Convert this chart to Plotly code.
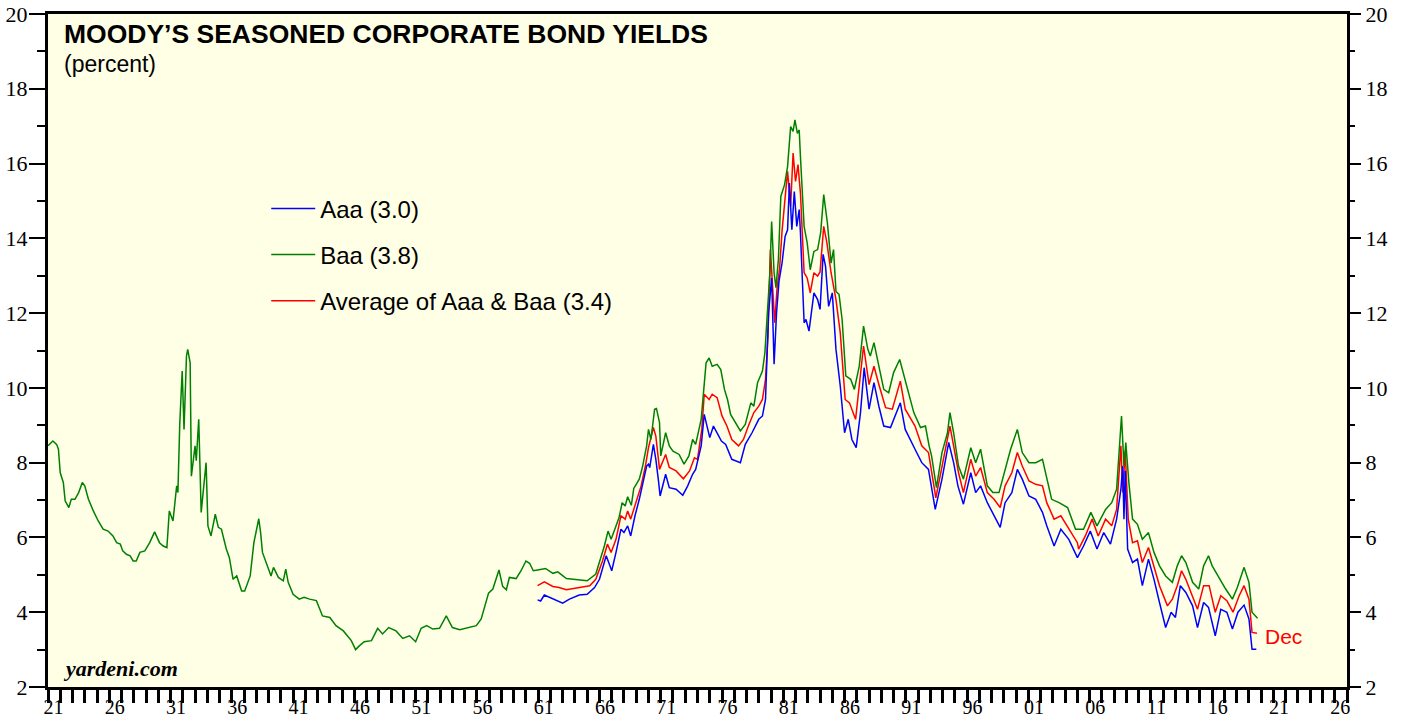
import plotly.graph_objects as go

# ---------------- data ----------------
baa_x = [1921.0, 1921.1, 1921.4, 1921.7, 1921.85, 1922.0, 1922.25, 1922.4, 1922.7, 1922.9,
         1923.2, 1923.5, 1923.8, 1924.0, 1924.3, 1924.7, 1925.1, 1925.5, 1925.9, 1926.3,
         1926.6, 1926.9, 1927.1, 1927.4, 1927.7, 1927.95, 1928.2, 1928.5, 1928.9, 1929.3,
         1929.7, 1930.1, 1930.4, 1930.7, 1930.9, 1931.2, 1931.5, 1931.6, 1931.75, 1931.95,
         1932.1, 1932.3, 1932.4, 1932.6, 1932.7, 1933.0, 1933.1, 1933.3, 1933.5, 1933.9,
         1934.05, 1934.3, 1934.65, 1934.9, 1935.15, 1935.55, 1935.8, 1936.1, 1936.4, 1936.8,
         1937.05, 1937.5, 1937.8, 1938.2, 1938.35, 1938.5, 1938.9, 1939.2, 1939.4, 1939.8,
         1940.2, 1940.4, 1940.6, 1941.0, 1941.5, 1941.9, 1942.35, 1942.9, 1943.4, 1944.0,
         1944.5, 1945.1, 1945.75, 1946.1, 1946.4, 1946.8, 1947.4, 1947.9, 1948.3, 1948.8,
         1949.4, 1949.95, 1950.5, 1951.0, 1951.45, 1951.9, 1952.4, 1952.95, 1953.5, 1954.0,
         1954.6, 1955.25, 1955.95, 1956.35, 1956.95, 1957.3, 1957.8, 1958.1, 1958.4, 1958.65,
         1959.2, 1959.6, 1960.0, 1960.3, 1960.6, 1960.95, 1961.6, 1962.2, 1962.6, 1963.3,
         1964.1, 1965.0, 1965.7, 1966.1, 1966.4, 1966.7, 1966.95, 1967.2, 1967.6, 1967.85,
         1968.1, 1968.3, 1968.6, 1968.8, 1969.25, 1969.5, 1969.85, 1970.0, 1970.2, 1970.5,
         1970.65, 1970.9, 1971.0, 1971.4, 1971.7, 1972.0, 1972.5, 1972.9, 1973.3, 1973.6,
         1973.85, 1974.3, 1974.55, 1974.7, 1974.95, 1975.2, 1975.6, 1975.9, 1976.2, 1976.45,
         1976.7, 1977.1, 1977.5, 1977.9, 1978.35, 1978.6, 1978.9, 1979.3, 1979.5, 1979.7,
         1979.9, 1980.05, 1980.25, 1980.4, 1980.6, 1980.8, 1981.1, 1981.35, 1981.6, 1981.8,
         1981.95, 1982.15, 1982.3, 1982.4, 1982.7, 1982.95, 1983.2, 1983.5, 1983.8, 1984.05,
         1984.3, 1984.6, 1984.9, 1985.1, 1985.3, 1985.55, 1985.8, 1986.1, 1986.5, 1986.8,
         1987.2, 1987.55, 1987.9, 1988.1, 1988.4, 1988.8, 1989.2, 1989.6, 1990.0, 1990.5,
         1990.85, 1991.25, 1991.65, 1992.2, 1992.6, 1992.9, 1993.1, 1993.5, 1993.95, 1994.4,
         1994.6, 1994.9, 1995.3, 1995.7, 1996.3, 1996.7, 1997.1, 1997.65, 1998.1, 1998.6,
         1999.1, 1999.55, 2000.1, 2000.5, 2001.05, 2001.6, 2002.15, 2002.5, 2002.9, 2003.5,
         2004.2, 2004.85, 2005.5, 2006.1, 2006.6, 2007.3, 2007.8, 2008.2, 2008.6, 2008.8,
         2008.95, 2009.2, 2009.5, 2009.9, 2010.3, 2010.8, 2011.25, 2011.7, 2012.2, 2012.75,
         2013.15, 2013.5, 2013.85, 2014.4, 2014.9, 2015.3, 2015.7, 2016.0, 2016.7, 2017.1,
         2017.65, 2018.05, 2018.6, 2019.0, 2019.25, 2019.7]
baa_y = [8.45, 8.49, 8.58, 8.49, 8.36, 7.73, 7.47, 6.98, 6.80, 7.02,
         7.02, 7.20, 7.47, 7.38, 7.02, 6.71, 6.44, 6.22, 6.17, 6.04,
         5.86, 5.82, 5.64, 5.55, 5.51, 5.37, 5.37, 5.60, 5.64, 5.86,
         6.15, 5.86, 5.77, 5.73, 6.71, 6.44, 7.38, 7.20, 9.02, 10.45,
         8.89, 10.85, 11.03, 10.67, 7.64, 8.45, 8.05, 9.16, 6.67, 8.00,
         6.31, 6.04, 6.62, 6.27, 6.22, 5.69, 5.46, 4.88, 4.97, 4.57,
         4.57, 4.97, 5.86, 6.50, 6.13, 5.60, 5.24, 4.97, 5.20, 4.93,
         4.84, 5.15, 4.80, 4.48, 4.35, 4.40, 4.35, 4.31, 3.90, 3.86,
         3.64, 3.50, 3.24, 3.00, 3.10, 3.21, 3.24, 3.57, 3.42, 3.59,
         3.50, 3.30, 3.37, 3.21, 3.57, 3.64, 3.55, 3.57, 3.90, 3.59,
         3.53, 3.59, 3.64, 3.82, 4.51, 4.62, 5.13, 4.69, 4.60, 4.93,
         4.90, 5.11, 5.37, 5.31, 5.11, 5.13, 5.17, 5.04, 5.08, 4.90,
         4.88, 4.84, 5.02, 5.42, 5.77, 6.17, 5.95, 6.17, 6.53, 6.93,
         6.84, 7.09, 6.86, 7.31, 7.56, 7.87, 8.45, 8.89, 8.62, 9.43,
         9.45, 9.07, 8.18, 8.80, 8.45, 8.31, 8.22, 7.96, 8.18, 8.62,
         8.49, 9.16, 10.23, 10.67, 10.80, 10.58, 10.63, 10.49, 9.96, 9.69,
         9.29, 9.07, 8.85, 9.02, 9.60, 9.51, 10.14, 10.45, 10.94, 12.01,
         13.03, 14.45, 13.08, 12.68, 13.43, 15.12, 15.43, 15.92, 16.99, 16.86,
         17.17, 16.81, 16.90, 16.19, 14.32, 13.88, 13.16, 13.65, 13.70, 14.15,
         15.17, 14.41, 13.34, 13.70, 12.58, 12.50, 11.83, 10.32, 10.23, 9.96,
         10.58, 11.65, 11.03, 10.85, 11.21, 10.58, 9.96, 9.87, 10.41, 10.76,
         10.32, 9.87, 9.34, 8.94, 8.98, 8.45, 8.18, 7.33, 8.27, 8.80,
         9.34, 8.80, 7.91, 7.56, 8.40, 8.00, 8.36, 7.38, 7.20, 7.20,
         7.82, 8.36, 8.89, 8.27, 8.00, 8.00, 8.09, 7.56, 7.02, 6.93,
         6.80, 6.22, 6.22, 6.67, 6.31, 6.75, 6.93, 7.29, 9.25, 7.91,
         8.54, 7.47, 6.49, 6.35, 5.95, 6.13, 5.60, 5.24, 4.97, 4.80,
         5.24, 5.51, 5.33, 4.80, 4.62, 5.24, 5.51, 5.24, 4.84, 4.62,
         4.35, 4.66, 5.20, 4.80, 4.00, 3.84]

aaa_x = [1960.95, 1961.2, 1961.5, 1961.9, 1962.45, 1963.0, 1963.55, 1964.35, 1965.0, 1965.6,
         1966.0, 1966.3, 1966.55, 1966.8, 1967.0, 1967.35, 1967.75, 1968.0, 1968.3, 1968.55,
         1968.9, 1969.25, 1969.6, 1969.85, 1970.0, 1970.1, 1970.4, 1970.6, 1970.8, 1970.95,
         1971.4, 1971.7, 1972.25, 1972.8, 1973.2, 1973.6, 1973.85, 1974.3, 1974.55, 1974.8,
         1975.0, 1975.3, 1975.6, 1975.95, 1976.3, 1976.8, 1977.1, 1977.5, 1977.9, 1978.45,
         1979.0, 1979.3, 1979.55, 1979.65, 1979.8, 1980.05, 1980.25, 1980.45, 1980.65, 1980.9,
         1981.15, 1981.35, 1981.5, 1981.7, 1981.9, 1982.1, 1982.3, 1982.4, 1982.7, 1982.85,
         1983.1, 1983.5, 1983.8, 1984.0, 1984.25, 1984.45, 1984.7, 1985.0, 1985.3, 1985.65,
         1986.0, 1986.3, 1986.6, 1986.95, 1987.3, 1987.6, 1988.0, 1988.4, 1988.8, 1989.2,
         1989.75, 1990.55, 1990.95, 1991.75, 1992.3, 1992.85, 1993.4, 1993.95, 1994.5, 1994.9,
         1995.25, 1995.7, 1996.3, 1996.7, 1997.1, 1997.65, 1998.2, 1998.7, 1999.1, 1999.65,
         2000.1, 2000.5, 2001.05, 2001.6, 2002.15, 2002.5, 2003.1, 2003.65, 2004.3, 2005.0,
         2005.5, 2006.05, 2006.6, 2007.15, 2007.7, 2008.2, 2008.55, 2008.7, 2008.8, 2008.9,
         2009.1, 2009.5, 2009.9, 2010.3, 2010.8, 2011.25, 2011.7, 2012.2, 2012.65, 2013.0,
         2013.4, 2013.85, 2014.4, 2014.8, 2015.3, 2015.7, 2016.25, 2016.7, 2017.2, 2017.65,
         2018.1, 2018.6, 2019.0, 2019.25, 2019.6]
aaa_y = [4.33, 4.30, 4.46, 4.40, 4.33, 4.24, 4.35, 4.46, 4.48, 4.66,
         4.88, 5.24, 5.51, 5.29, 5.11, 5.60, 6.22, 6.13, 6.31, 6.04,
         6.58, 7.02, 7.56, 7.91, 7.96, 7.87, 8.49, 8.09, 7.56, 7.11,
         7.69, 7.33, 7.29, 7.13, 7.38, 7.69, 7.82, 8.45, 9.29, 8.94,
         8.67, 8.98, 8.80, 8.58, 8.49, 8.09, 8.05, 8.00, 8.49, 8.80,
         9.16, 9.25, 9.69, 10.76, 12.01, 12.94, 10.63, 12.01, 12.85, 13.34,
         14.05, 14.23, 15.48, 14.23, 15.25, 14.32, 14.77, 14.15, 11.74, 11.83,
         11.52, 12.54, 12.36, 12.10, 13.57, 13.25, 12.18, 12.54, 11.03, 10.05,
         8.80, 9.16, 8.62, 8.40, 9.34, 10.54, 9.43, 10.14, 9.51, 8.98,
         8.94, 9.60, 8.89, 8.36, 8.00, 7.82, 6.75, 7.56, 8.54, 8.00,
         7.38, 6.89, 7.73, 7.20, 7.38, 6.93, 6.58, 6.27, 6.93, 7.20,
         7.82, 7.56, 7.11, 7.02, 6.67, 6.31, 5.77, 6.22, 5.95, 5.46,
         5.77, 6.17, 5.69, 6.13, 5.82, 6.49, 7.29, 7.91, 6.49, 7.78,
         5.69, 5.33, 5.42, 4.71, 5.42, 4.88, 4.26, 3.59, 4.00, 3.86,
         4.71, 4.53, 4.17, 3.59, 4.26, 4.13, 3.37, 4.08, 4.00, 3.55,
         4.00, 4.19, 3.82, 3.01, 3.01]

avg_x = [1960.95, 1961.5, 1962.2, 1962.7, 1963.3, 1964.4, 1965.2, 1965.7, 1966.25, 1966.65,
         1966.95, 1967.35, 1967.75, 1968.1, 1968.3, 1968.55, 1968.95, 1969.4, 1969.75, 1970.0,
         1970.4, 1970.6, 1970.9, 1971.4, 1971.7, 1972.25, 1972.85, 1973.35, 1973.75, 1974.0,
         1974.35, 1974.55, 1974.95, 1975.2, 1975.6, 1976.0, 1976.4, 1976.8, 1977.35, 1977.75,
         1978.15, 1978.6, 1979.0, 1979.3, 1979.55, 1979.75, 1979.95, 1980.3, 1980.5, 1980.7,
         1980.9, 1981.15, 1981.35, 1981.6, 1981.8, 1982.0, 1982.2, 1982.4, 1982.7, 1982.95,
         1983.2, 1983.5, 1983.8, 1984.0, 1984.3, 1984.55, 1984.9, 1985.3, 1985.65, 1986.05,
         1986.4, 1986.9, 1987.55, 1988.0, 1988.4, 1988.8, 1989.35, 1989.9, 1990.55, 1990.95,
         1991.75, 1992.3, 1992.85, 1993.45, 1993.95, 1994.6, 1994.9, 1995.3, 1995.7, 1996.3,
         1996.7, 1997.1, 1997.65, 1998.2, 1998.7, 1999.1, 1999.65, 2000.1, 2000.5, 2001.05,
         2001.6, 2002.15, 2002.5, 2003.1, 2003.65, 2004.3, 2005.0, 2005.1, 2005.65, 2006.2,
         2006.7, 2007.3, 2007.8, 2008.2, 2008.55, 2008.7, 2008.9, 2009.15, 2009.5, 2009.9,
         2010.3, 2010.8, 2011.25, 2011.7, 2012.35, 2012.75, 2013.15, 2013.5, 2013.85, 2014.4,
         2014.8, 2015.3, 2015.75, 2016.25, 2016.7, 2017.2, 2017.7, 2018.2, 2018.6, 2019.0,
         2019.25, 2019.65]
avg_y = [4.71, 4.81, 4.69, 4.66, 4.60, 4.66, 4.71, 4.88, 5.37, 5.82,
         5.60, 5.95, 6.58, 6.49, 6.71, 6.49, 6.93, 7.38, 7.91, 8.40,
         8.94, 8.71, 7.82, 8.22, 7.87, 7.78, 7.57, 7.78, 8.13, 8.09,
         8.89, 9.83, 9.69, 9.83, 9.74, 9.25, 8.98, 8.62, 8.45, 8.62,
         8.98, 9.34, 9.51, 9.69, 10.23, 11.40, 13.70, 11.74, 12.70, 13.20,
         14.20, 15.03, 15.79, 14.86, 16.28, 15.52, 15.97, 15.21, 13.08, 12.94,
         12.54, 13.08, 12.99, 13.10, 14.32, 13.90, 13.08, 12.36, 11.47, 9.69,
         9.60, 9.16, 11.12, 10.09, 10.58, 10.09, 9.47, 9.43, 10.18, 9.43,
         8.98, 8.45, 8.27, 7.06, 7.91, 8.98, 8.45, 7.73, 7.20, 8.09,
         7.64, 7.87, 7.20, 7.02, 6.80, 7.38, 7.73, 8.27, 7.91, 7.51,
         7.42, 7.38, 6.93, 6.49, 6.58, 6.22, 5.86, 5.69, 6.04, 6.49,
         6.04, 6.49, 6.31, 6.75, 8.45, 7.20, 8.31, 6.49, 5.86, 5.91,
         5.33, 5.73, 5.24, 4.71, 4.17, 4.35, 4.71, 5.11, 4.88, 4.44,
         4.08, 4.71, 4.71, 4.00, 4.44, 4.31, 4.00, 4.44, 4.71, 4.35,
         3.46, 3.44]

year_ticks = list(range(1921, 2027, 5))
year_labels = ["%02d" % (y % 100) for y in year_ticks]
legend_names = ["Aaa (3.0)", "Baa (3.8)", "Average of Aaa & Baa (3.4)"]

# ---------------- figure ----------------
SANS = "Liberation Sans, Arial, sans-serif"
SERIF = "Liberation Serif, Times New Roman, serif"

fig = go.Figure()
fig.add_trace(go.Scatter(x=baa_x, y=baa_y, mode="lines", name=legend_names[1], yaxis="y2",
                         line=dict(color="#008000", width=1.5), legendgroup="b", legendrank=2))
fig.add_trace(go.Scatter(x=avg_x, y=avg_y, mode="lines", name=legend_names[2],
                         line=dict(color="#FF0000", width=1.5), legendgroup="c", legendrank=3))
fig.add_trace(go.Scatter(x=aaa_x, y=aaa_y, mode="lines", name=legend_names[0],
                         line=dict(color="#0000FF", width=1.5), legendgroup="a", legendrank=1))

fig.update_layout(
    width=1403, height=717,
    margin=dict(l=48, r=56, t=14, b=30, autoexpand=False),
    paper_bgcolor="white",
    plot_bgcolor="#FFFFE6",
    showlegend=True,
    legend=dict(x=0.168, y=0.744, xanchor="left", yanchor="top",
                bgcolor="rgba(0,0,0,0)", borderwidth=0,
                font=dict(family=SANS, size=24, color="black"),
                tracegroupgap=12, itemwidth=44),
    xaxis=dict(range=[1921, 2027], showgrid=False, zeroline=False, automargin=False,
               tickmode="array", tickvals=[y + 0.45 for y in year_ticks], ticktext=year_labels,
               ticks="", ticklabelstandoff=0, ticklabeloverflow="allow",
               tickfont=dict(family=SERIF, size=20, color="black"),
               minor=dict(tickmode="array", tickvals=list(range(1921, 2028)), ticks="outside",
                          ticklen=13, tickwidth=2.5, tickcolor="black"),
               showline=True, linecolor="black", linewidth=3, mirror=True),
    yaxis=dict(range=[2, 20], showgrid=False, zeroline=False, automargin=False,
               tickmode="linear", tick0=2, dtick=2, ticks="outside", ticklen=16, tickwidth=2,
               tickcolor="black", ticklabelstandoff=-3, ticklabeloverflow="allow",
               tickfont=dict(family=SERIF, size=22, color="black"),
               minor=dict(dtick=1, tick0=2, ticks="outside", ticklen=8, tickwidth=2, tickcolor="black"),
               showline=True, linecolor="black", linewidth=3, mirror=True),
    yaxis2=dict(range=[2, 20], overlaying="y", side="right", showgrid=False, zeroline=False,
                automargin=False, showticklabels=True, ticklabeloverflow="allow",
                tickmode="linear", tick0=2, dtick=2, ticks="outside", ticklen=13, tickwidth=2,
                tickcolor="black",
                tickfont=dict(family=SERIF, size=22, color="black"),
                minor=dict(dtick=1, tick0=2, ticks="outside", ticklen=7, tickwidth=2, tickcolor="black"),
                showline=False),
    annotations=[
        dict(text="<b>MOODY\u2019S SEASONED CORPORATE BOND YIELDS</b>", xref="paper", yref="paper",
             x=0.011, y=0.995, xanchor="left", yanchor="top", showarrow=False,
             font=dict(family=SANS, size=26.5, color="black")),
        dict(text="(percent)", xref="paper", yref="paper", x=0.011, y=0.948,
             xanchor="left", yanchor="top", showarrow=False,
             font=dict(family=SANS, size=23, color="black")),
        dict(text="<b><i>yardeni.com</i></b>", xref="paper", yref="paper", x=0.010, y=0.027,
             xanchor="left", yanchor="middle", showarrow=False,
             font=dict(family=SERIF, size=22, color="black")),
        dict(text="Dec", x=avg_x[-1], y=avg_y[-1], xref="x", yref="y", xanchor="left",
             yanchor="middle", xshift=6, yshift=-3, showarrow=False,
             font=dict(family=SANS, size=21, color="#FF0000")),
    ],
)

# remove the browser's default 8px page margin so the figure sits at the window's corner
fig.write_html("out.html", config={"displayModeBar": False},
               post_script="document.body.style.margin='0px';")
